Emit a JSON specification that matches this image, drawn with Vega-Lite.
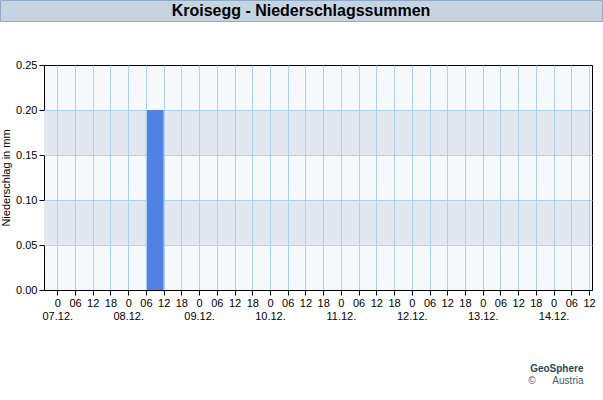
{
  "$schema": "https://vega.github.io/schema/vega-lite/v6.json",
  "background": "white",
  "padding": {"left": -1, "top": -1, "right": 0, "bottom": 0},
  "bounds": "flush",
  "spacing": 44,
  "config": {"font": "Liberation Sans", "view": {"stroke": null}},
  "title": {
    "text": "GeoSphere",
    "subtitle": "©\u00a0\u00a0\u00a0\u00a0\u00a0\u00a0Austria",
    "orient": "bottom",
    "anchor": "end",
    "font": "Liberation Sans",
    "fontSize": 10,
    "fontWeight": "bold",
    "color": "#26495a",
    "subtitleFont": "Liberation Sans",
    "subtitleFontSize": 10,
    "subtitleColor": "#3a6070",
    "subtitlePadding": 2,
    "offset": 42,
    "dx": -19
  },
  "vconcat": [
    {
      "width": 602,
      "height": 21,
      "view": {"fill": "#c6d4e1", "stroke": "#8eaac6", "strokeWidth": 1},
      "data": {"values": [{}]},
      "mark": {"type": "text", "font": "Liberation Sans", "fontSize": 16, "fontWeight": "bold", "color": "#000000", "baseline": "middle"},
      "encoding": {"text": {"value": "Kroisegg - Niederschlagssummen"}}
    },
    {
      "bounds": "flush",
      "spacing": 0,
      "hconcat": [
        {
          "width": 44,
          "height": 225,
          "view": {"stroke": null, "fill": null},
          "data": {"values": [{}]},
          "mark": {"type": "point", "opacity": 0},
          "encoding": {
            "y": {
              "datum": 0,
              "type": "quantitative",
              "scale": {"domain": [0, 0.25], "nice": false, "zero": false},
              "axis": {
                "orient": "left",
                "offset": -44,
                "values": [0, 0.05, 0.1, 0.15, 0.2, 0.25],
                "format": ".2f",
                "grid": false,
                "domain": false,
                "tickSize": 5,
                "tickColor": "#000000",
                "labelPadding": 2,
                "labelFontSize": 11,
                "labelColor": "#000000",
                "labelFlush": false,
                "labelOverlap": false,
                "title": "Niederschlag in mm",
                "titleFontSize": 11,
                "titleFontWeight": "normal",
                "titleColor": "#000000",
                "titlePadding": 4
              }
            }
          }
        },
        {
          "width": 548,
          "height": 225,
          "view": {"fill": "#f6f8fb", "stroke": "#000000", "strokeWidth": 1},
          "data": {
            "values": [
              {"start": 1733529600000, "end": 1733551200000, "precip": 0},
              {"start": 1733551200000, "end": 1733572800000, "precip": 0},
              {"start": 1733572800000, "end": 1733594400000, "precip": 0},
              {"start": 1733594400000, "end": 1733616000000, "precip": 0},
              {"start": 1733616000000, "end": 1733637600000, "precip": 0},
              {"start": 1733637600000, "end": 1733659200000, "precip": 0.2},
              {"start": 1733659200000, "end": 1733680800000, "precip": 0},
              {"start": 1733680800000, "end": 1733702400000, "precip": 0},
              {"start": 1733702400000, "end": 1733724000000, "precip": 0},
              {"start": 1733724000000, "end": 1733745600000, "precip": 0},
              {"start": 1733745600000, "end": 1733767200000, "precip": 0},
              {"start": 1733767200000, "end": 1733788800000, "precip": 0},
              {"start": 1733788800000, "end": 1733810400000, "precip": 0},
              {"start": 1733810400000, "end": 1733832000000, "precip": 0},
              {"start": 1733832000000, "end": 1733853600000, "precip": 0},
              {"start": 1733853600000, "end": 1733875200000, "precip": 0},
              {"start": 1733875200000, "end": 1733896800000, "precip": 0},
              {"start": 1733896800000, "end": 1733918400000, "precip": 0},
              {"start": 1733918400000, "end": 1733940000000, "precip": 0},
              {"start": 1733940000000, "end": 1733961600000, "precip": 0},
              {"start": 1733961600000, "end": 1733983200000, "precip": 0},
              {"start": 1733983200000, "end": 1734004800000, "precip": 0},
              {"start": 1734004800000, "end": 1734026400000, "precip": 0},
              {"start": 1734026400000, "end": 1734048000000, "precip": 0},
              {"start": 1734048000000, "end": 1734069600000, "precip": 0},
              {"start": 1734069600000, "end": 1734091200000, "precip": 0},
              {"start": 1734091200000, "end": 1734112800000, "precip": 0},
              {"start": 1734112800000, "end": 1734134400000, "precip": 0},
              {"start": 1734134400000, "end": 1734156000000, "precip": 0},
              {"start": 1734156000000, "end": 1734177600000, "precip": 0}
            ]
          },
          "layer": [
            {
              "data": {"values": [{}]},
              "mark": {"type": "rect", "color": "#e3e8f0", "y2Offset": 1},
              "encoding": {
                "y": {"datum": 0.05, "type": "quantitative", "scale": {"domain": [0, 0.25], "nice": false},
                  "axis": {"title": null, "labels": false, "ticks": false, "domain": false, "grid": true, "gridColor": "#a9d3f0", "values": [0.05, 0.1, 0.15, 0.2]}},
                "y2": {"datum": 0.1}
              }
            },
            {
              "data": {"values": [{}]},
              "mark": {"type": "rect", "color": "#e3e8f0", "y2Offset": 1},
              "encoding": {
                "y": {"datum": 0.15, "type": "quantitative", "scale": {"domain": [0, 0.25], "nice": false},
                  "axis": {"title": null, "labels": false, "ticks": false, "domain": false, "grid": true, "gridColor": "#a9d3f0", "values": [0.05, 0.1, 0.15, 0.2]}},
                "y2": {"datum": 0.2}
              }
            },
            {
              "mark": {"type": "rect", "color": "#5282e4"},
              "encoding": {
                "x": {
                  "field": "start",
                  "type": "temporal",
                  "scale": {"type": "utc", "domain": [1733513400000, 1734181200000]},
                  "axis": {
                    "zindex": 1,
                    "title": null,
                    "grid": true,
                    "gridColor": "#a9d3f0",
                    "values": [1733529600000, 1733551200000, 1733572800000, 1733594400000, 1733616000000, 1733637600000, 1733659200000, 1733680800000, 1733702400000, 1733724000000, 1733745600000, 1733767200000, 1733788800000, 1733810400000, 1733832000000, 1733853600000, 1733875200000, 1733896800000, 1733918400000, 1733940000000, 1733961600000, 1733983200000, 1734004800000, 1734026400000, 1734048000000, 1734069600000, 1734091200000, 1734112800000, 1734134400000, 1734156000000, 1734177600000],
                    "domainColor": "#000000",
                    "tickColor": "#000000",
                    "tickSize": 5,
                    "labelFontSize": 11,
                    "labelColor": "#000000",
                    "labelPadding": 2,
                    "labelOverlap": false,
                    "labelFlush": false,
                    "labelLineHeight": 13,
                    "labelExpr": "utchours(datum.value) == 0 ? ['0', utcFormat(datum.value, '%d.%m.')] : utcFormat(datum.value, '%H')"
                  }
                },
                "x2": {"field": "end"},
                "y": {
                  "field": "precip",
                  "type": "quantitative",
                  "scale": {"domain": [0, 0.25], "nice": false},
                  "axis": {"title": null, "labels": false, "ticks": false, "domain": false, "grid": true, "gridColor": "#a9d3f0", "values": [0.05, 0.1, 0.15, 0.2]}
                }
              }
            }
          ]
        }
      ]
    }
  ]
}
